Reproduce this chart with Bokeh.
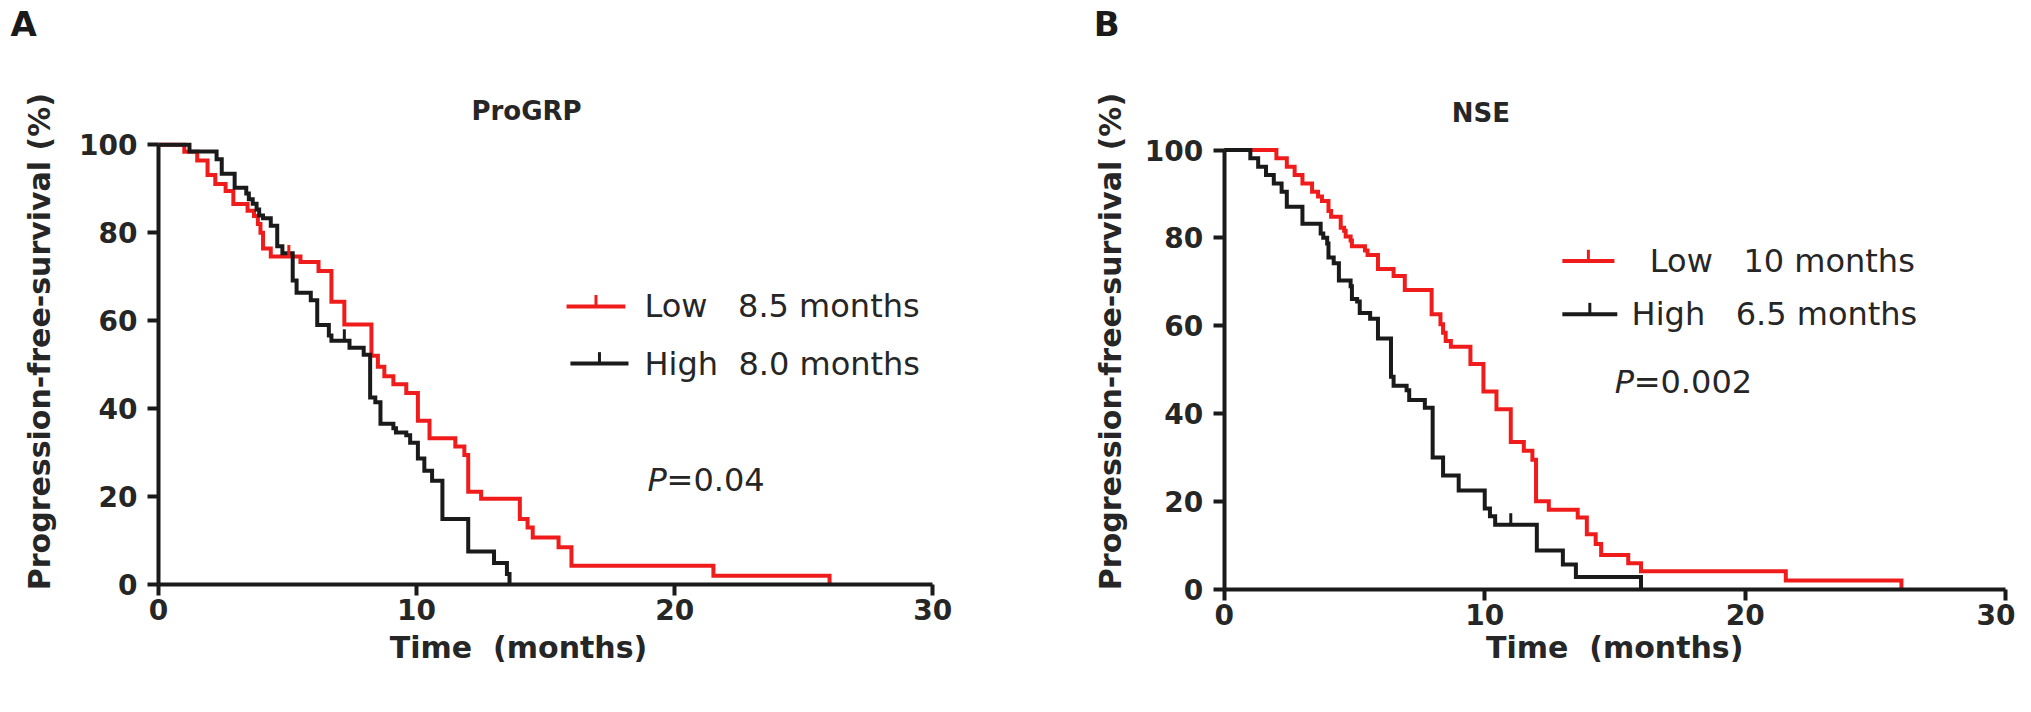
import math
from bokeh.plotting import figure
from bokeh.models import Range1d, FixedTicker, Label
from bokeh.layouts import row
from bokeh.embed import file_html
from bokeh.resources import INLINE

# ---------------- data ----------------
# Panel A: ProGRP
progrp_low_t = [0, 1.0, 1.5, 1.9, 2.2, 2.6, 2.9, 3.45, 3.7, 3.85, 3.95, 4.05, 4.35, 5.5, 6.2,
                6.7, 7.2, 8.25, 8.5, 8.75, 9.1, 9.6, 10.05, 10.5, 11.5, 11.85, 12.0, 12.5,
                14.0, 14.3, 14.5, 15.5, 16.0, 21.5, 26.0]
progrp_low_s = [100, 98.4, 96.4, 93.1, 91.1, 89.5, 86.5, 85.0, 83.8, 82.0, 80.0, 76.4, 74.6, 73.3, 71.3,
                64.3, 59.1, 52.0, 49.5, 47.3, 45.5, 43.5, 37.2, 33.2, 31.3, 29.4, 21.0, 19.4,
                14.8, 12.9, 10.6, 8.4, 4.2, 1.9, 0]
progrp_high_t = [0, 1.2, 2.25, 2.45, 2.95, 3.4, 3.5, 3.65, 3.8, 3.9, 4.05, 4.35, 4.6, 4.8, 5.2,
                 5.35, 5.9, 6.15, 6.6, 6.7, 7.4, 7.95, 8.2, 8.4, 8.6, 9.1, 9.2, 9.6, 9.75, 10.05,
                 10.3, 10.6, 11.0, 12.0, 13.0, 13.5, 13.6]
progrp_high_s = [100, 98.5, 96.7, 93.4, 90.2, 88.9, 87.6, 86.6, 85.3, 83.9, 83.3, 81.6, 76.9, 75.3, 69.1,
                 66.3, 64.6, 59.0, 56.6, 55.4, 53.8, 52.2, 42.5, 41.4, 36.5, 35.5, 34.5, 33.9, 32.2, 28.6,
                 25.8, 23.5, 14.8, 7.4, 4.8, 2.3, 0]
progrp_low_cens_t = [5.05]
progrp_low_cens_s = [74.6]
progrp_high_cens_t = [7.2]
progrp_high_cens_s = [55.4]

# Panel B: NSE
nse_low_t = [0, 2.0, 2.4, 2.7, 3.0, 3.37, 3.6, 3.75, 4.0, 4.1, 4.47, 4.6, 4.66, 4.85, 4.9, 5.4, 5.5,
             5.9, 6.5, 6.93, 7.96, 8.3, 8.4, 8.5, 8.7, 9.45, 9.95, 10.45, 11.0, 11.5, 11.83, 11.97,
             12.46, 13.57, 13.92, 14.26, 14.47, 15.51, 16.0, 21.56, 26.0]
nse_low_s = [100, 98.1, 96.2, 94.3, 92.4, 90.5, 89.4, 88.4, 86.1, 84.8, 82.3, 81.6, 80.3, 79.4, 78.1, 77.1, 76.1,
             72.9, 71.3, 68.1, 62.6, 60.3, 58.4, 56.5, 55.2, 51.3, 45.0, 41.0, 33.5, 31.5, 29.5, 20.0,
             18.1, 16.3, 12.5, 10.3, 7.8, 5.9, 4.1, 2.0, 0]
nse_high_t = [0, 1.0, 1.3, 1.6, 1.9, 2.2, 2.4, 3.0, 3.7, 3.8, 3.95, 4.0, 4.2, 4.4, 4.85, 4.9, 5.1, 5.2,
              5.6, 5.9, 6.4, 6.5, 7.0, 7.1, 7.7, 8.0, 8.4, 9.0, 10.0, 10.2, 10.4, 12.0, 13.0, 13.5, 16.0]
nse_high_s = [100, 98.1, 96.2, 94.3, 92.4, 90.5, 87.1, 83.2, 81.0, 80.0, 78.7, 75.5, 74.2, 70.3, 69.0, 66.1, 65.5, 62.9,
              61.6, 57.1, 48.4, 46.3, 45.3, 43.1, 41.3, 30.0, 25.9, 22.5, 18.4, 16.6, 14.7, 8.8, 5.6, 2.8, 0]
nse_high_cens_t = [11.0]
nse_high_cens_s = [14.7]

x_ticks = [0, 10, 20, 30]
y_ticks = [0, 20, 40, 60, 80, 100]

RED = "#f01c1c"
BLACK = "#1a1a1a"
TXT = "#262626"
FONT = "DejaVu Sans"
NB = "\u00a0"
H = 696
TICK_H = 2.6


def base_panel(width, xr, yr):
    p = figure(width=width, height=H, x_range=Range1d(*xr), y_range=Range1d(*yr),
               output_backend="svg", toolbar_location=None, title=None,
               min_border_left=0, min_border_right=0, min_border_top=0, min_border_bottom=0)
    p.min_border = 0
    p.background_fill_color = "white"
    p.border_fill_color = "white"
    p.outline_line_color = None
    p.xgrid.visible = False
    p.ygrid.visible = False
    for ax, ticks, b, st in ((p.xaxis, x_ticks, (0, 30), 4), (p.yaxis, y_ticks, (0, 100), 10)):
        ax.fixed_location = 0
        ax.ticker = FixedTicker(ticks=ticks)
        ax.bounds = b
        ax.axis_line_width = 4
        ax.axis_line_color = BLACK
        ax.major_tick_line_width = 4
        ax.major_tick_line_color = BLACK
        ax.major_tick_out = 11
        ax.major_tick_in = 0
        ax.minor_tick_line_color = None
        ax.major_label_text_font = FONT
        ax.major_label_text_font_style = "bold"
        ax.major_label_text_font_size = "28px"
        ax.major_label_text_color = TXT
        ax.major_label_standoff = st
    return p


def add_curve(p, t, s, color):
    p.step(t, s, mode="after", line_color=color, line_width=4, line_join="miter")


def add_cens(p, t, s, color):
    p.segment(x0=t, y0=s, x1=t, y1=[v + TICK_H for v in s], line_color=color, line_width=3)


def lab(p, x, y, text, size, style="normal", align="left", angle=0.0, color=TXT, x_offset=0):
    p.add_layout(Label(x=x, y=y, text=text, text_font=FONT, text_font_size=size,
                       text_font_style=style, text_align=align, text_baseline="middle",
                       angle=angle, text_color=color, x_offset=x_offset))


def legend_sample(p, x0, x1, y, color):
    xm = (x0 + x1) / 2
    p.segment(x0=[x0], y0=[y], x1=[x1], y1=[y], line_color=color, line_width=4)
    p.segment(x0=[xm], y0=[y], x1=[xm], y1=[y + TICK_H], line_color=color, line_width=3)


# ---------------- panel A ----------------
pA = base_panel(1060, (-6.122, 34.948), (-25.59, 132.85))
add_curve(pA, progrp_low_t, progrp_low_s, RED)
add_curve(pA, progrp_high_t, progrp_high_s, BLACK)
add_cens(pA, progrp_low_cens_t, progrp_low_cens_s, RED)
add_cens(pA, progrp_high_cens_t, progrp_high_cens_s, BLACK)
legend_sample(pA, 15.81, 18.09, 63.2, RED)
legend_sample(pA, 15.96, 18.21, 50.2, BLACK)
lab(pA, 18.83, 63.2, "Low" + NB * 3 + "8.5 months", "32px")
lab(pA, 18.83, 50.2, "High" + NB * 2 + "8.0 months", "32px")
lab(pA, 18.95, 23.6, "P", "32px", style="italic")
lab(pA, 18.95, 23.6, "=0.04", "32px", x_offset=19)
lab(pA, 14.26, 107.6, "ProGRP", "26px", style="bold", align="center")
lab(pA, -5.73, 127.6, "A", "34px", style="bold", color=BLACK)
lab(pA, -4.61, 55.2, "Progression-free-survival (%)", "30px", style="bold", align="center",
    angle=math.pi / 2)
lab(pA, 13.95, -14.4, "Time" + NB * 2 + "(months)", "30px", style="bold", align="center")

# ---------------- panel B ----------------
pB = base_panel(955, (-6.29, 30.38), (-24.43, 134.04))
add_curve(pB, nse_low_t, nse_low_s, RED)
add_curve(pB, nse_high_t, nse_high_s, BLACK)
add_cens(pB, nse_high_cens_t, nse_high_cens_s, BLACK)
legend_sample(pB, 12.98, 14.98, 74.7, RED)
legend_sample(pB, 12.98, 15.09, 62.6, BLACK)
lab(pB, 16.34, 74.7, "Low" + NB * 3 + "10 months", "32px")
lab(pB, 15.64, 62.6, "High" + NB * 3 + "6.5 months", "32px")
lab(pB, 14.99, 47.1, "P", "32px", style="italic")
lab(pB, 14.99, 47.1, "=0.002", "32px", x_offset=19)
lab(pB, 9.85, 108.5, "NSE", "26px", style="bold", align="center")
lab(pB, -5.01, 128.8, "B", "34px", style="bold", color=BLACK)
lab(pB, -4.36, 56.4, "Progression-free-survival (%)", "30px", style="bold", align="center",
    angle=math.pi / 2)
lab(pB, 14.99, -13.3, "Time" + NB * 2 + "(months)", "30px", style="bold", align="center")

layout = row(pA, pB)
open("out.html", "w").write(file_html(layout, INLINE))
